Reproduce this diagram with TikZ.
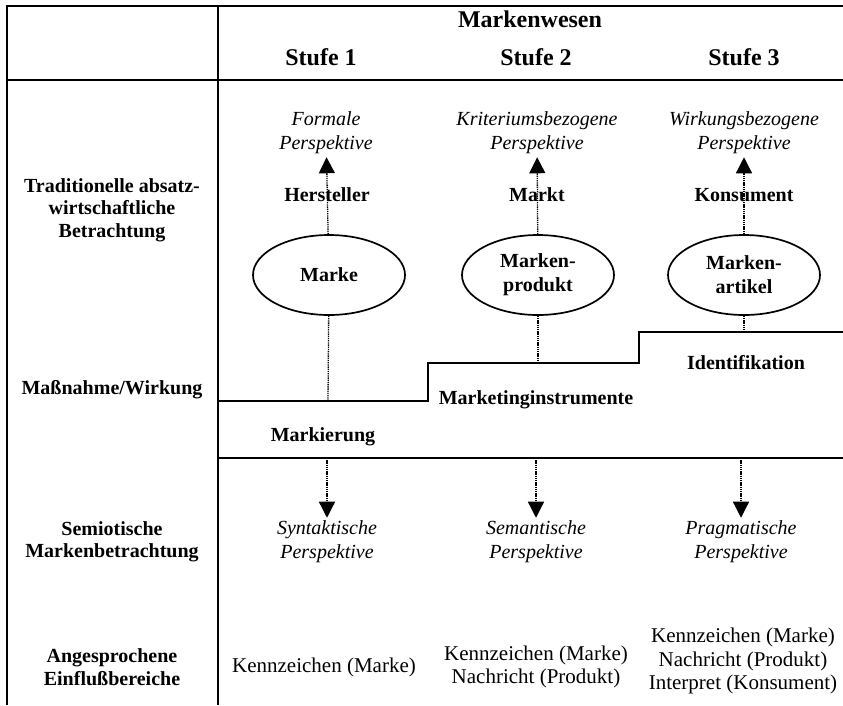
\documentclass[tikz,border=0pt]{standalone}
\usepackage{fontspec}
\setmainfont{Liberation Serif}
\usetikzlibrary{shapes.geometric, arrows.meta}
\tikzstyle{head} = [font=\bfseries\fontsize{24}{27}\selectfont, inner sep=0pt]
\tikzstyle{rowlabel} = [font=\bfseries\fontsize{20}{22.5}\selectfont,
align=center,
inner sep=0pt]
\tikzstyle{persp} = [font=\itshape\fontsize{20}{24}\selectfont,
align=center,
inner sep=3pt]
\tikzstyle{actor} = [font=\bfseries\fontsize{20}{24}\selectfont, inner sep=0pt]
\tikzstyle{brand} = [ellipse,
minimum width=152pt,
minimum height=80pt,
inner sep=0pt,
align=center,
draw=black,
line width=1.7pt,
font=\bfseries\fontsize{20}{24}\selectfont]
\tikzstyle{area} = [font=\fontsize{21}{23.5}\selectfont, align=center, inner sep=0pt]
\tikzstyle{frame} = [line width=1.5pt]
\tikzstyle{stair} = [line width=2.2pt]
\tikzstyle{link} = [line width=1.3pt, dash pattern=on 1.3pt off 0.9pt]
\tikzstyle{arrow} = [link, -{Triangle[width=16pt,length=16pt]}]

\begin{document}
\begin{tikzpicture}[x=1pt, y=-1pt]

  \useasboundingbox (0,0) rectangle (843,705);

  % Tabellenrahmen
  \draw [frame] (843,6) -- (7,6) -- (7,705);
  \draw [frame] (7,80) -- (843,80);
  \draw [frame] (218,6) -- (218,705);
  \draw [frame] (218,458) -- (843,458);
  \draw [stair] (218,401) -- (428,401) -- (428,363) -- (639,363) -- (639,332) -- (843,332);

  % Kopf
  \node (wesen) [head] at (530,19) {Markenwesen};
  \node (stufe1) [head] at (321,57) {Stufe 1};
  \node (stufe2) [head] at (536,57) {Stufe 2};
  \node (stufe3) [head] at (744,57) {Stufe 3};

  % Zeilen
  \node (tradition) [rowlabel] at (112,210) {Traditionelle absatz-\\wirtschaftliche\\Betrachtung};
  \node (wirkung) [rowlabel] at (112,390) {Maßnahme/Wirkung};
  \node (semiotik) [rowlabel] at (112,542) {Semiotische\\Markenbetrachtung};
  \node (bereiche) [rowlabel] at (112,667) {Angesprochene\\Einflußbereiche};

  % obere Perspektiven
  \node (formal) [persp] at (326,133) {Formale\\Perspektive};
  \node (kriterium) [persp] at (537,133) {Kriteriumsbezogene\\Perspektive};
  \node (wirkungsp) [persp] at (744,133) {Wirkungsbezogene\\Perspektive};

  \node (hersteller) [actor] at (327,195) {Hersteller};
  \node (markt) [actor] at (537,195) {Markt};
  \node (konsument) [actor] at (744,195) {Konsument};

  \node (marke) [brand] at (329,275) {Marke};
  \node (produkt) [brand] at (538,275) {Marken-\\produkt};
  \node (artikel) [brand] at (744,275) {Marken-\\artikel};

  % Stufen
  \node (ident) [actor] at (746,363) {Identifikation};
  \node (instr) [actor] at (536,400) {Marketinginstrumente};
  \node (markier) [actor] at (323,437) {Markierung};

  \coordinate (m1) at (328,401);
  \coordinate (m2) at (538,363);
  \coordinate (m3) at (744,332);
  \coordinate (d1) at (327,458);
  \coordinate (d2) at (536,458);
  \coordinate (d3) at (741,458);

  % untere Perspektiven
  \node (syntax) [persp] at (327,542) {Syntaktische\\Perspektive};
  \node (semantik) [persp] at (536,542) {Semantische\\Perspektive};
  \node (pragmatik) [persp] at (741,542) {Pragmatische\\Perspektive};

  \node (kz1) [area] at (324,667) {Kennzeichen (Marke)};
  \node (kz2) [area] at (536,667) {Kennzeichen (Marke)\\Nachricht (Produkt)};
  \node (kz3) [area] at (743,661) {Kennzeichen (Marke)\\Nachricht (Produkt)\\Interpret (Konsument)};

  \draw [arrow] (marke) -- (formal);
  \draw [arrow] (produkt) -- (kriterium);
  \draw [arrow] (artikel) -- (wirkungsp);
  \draw [link] (marke) -- (m1);
  \draw [link] (produkt) -- (m2);
  \draw [link] (artikel) -- (m3);
  \draw [arrow] (d1) -- (syntax);
  \draw [arrow] (d2) -- (semantik);
  \draw [arrow] (d3) -- (pragmatik);

\end{tikzpicture}
\end{document}
